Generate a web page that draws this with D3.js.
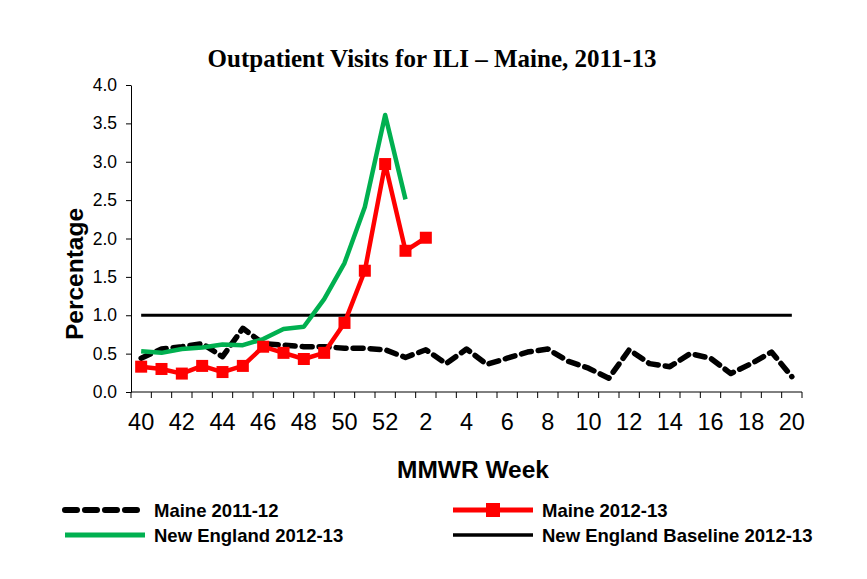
<!DOCTYPE html>
<html>
<head>
<meta charset="utf-8">
<script src="https://cdn.jsdelivr.net/npm/d3@7"></script>
<style>
  body { margin: 0; background: #fff; }
  svg text { font-family: Arial, "Liberation Sans", sans-serif; }
</style>
</head>
<body>
<div id="chart"></div>
<script>
// MMWR weeks on the x axis
let weeks = [40, 41, 42, 43, 44, 45, 46, 47, 48, 49, 50, 51, 52,
    1, 2, 3, 4, 5, 6, 7, 8, 9, 10, 11, 12, 13, 14, 15, 16, 17, 18, 19, 20];
let yTicks = [0, 0.5, 1.0, 1.5, 2.0, 2.5, 3.0, 3.5, 4.0];

// series values (percent of visits for ILI)
let maine1112 = [0.44, 0.56, 0.59, 0.63, 0.46, 0.83, 0.63, 0.61, 0.59, 0.59, 0.57,
    0.57, 0.55, 0.45, 0.55, 0.37, 0.56, 0.36, 0.44, 0.52, 0.56, 0.40, 0.31, 0.18,
    0.55, 0.37, 0.33, 0.50, 0.44, 0.24, 0.37, 0.52, 0.20];
let maine1213 = [0.33, 0.30, 0.24, 0.34, 0.26, 0.34, 0.59, 0.51, 0.43, 0.51, 0.90,
    1.58, 2.97, 1.84, 2.01];
let newEngland1213 = [0.53, 0.51, 0.56, 0.58, 0.62, 0.61, 0.69, 0.82, 0.85, 1.21,
    1.68, 2.41, 3.61, 2.51];
let baseline1213 = weeks.map(() => 1.0);

let width = 867, height = 579;
let margin = {left: 131, right: 65, top: 85, bottom: 187};

let svg = d3.select("#chart").append("svg")
    .attr("width", width)
    .attr("height", height);

let x = d3.scaleBand()
    .domain(d3.range(weeks.length))
    .range([margin.left, width - margin.right]);
let y = d3.scaleLinear()
    .domain([0, 4])
    .range([height - margin.bottom, margin.top]);

let cx = i => x(i) + x.bandwidth() / 2;

// title
svg.append("text")
    .attr("x", 432).attr("y", 67)
    .attr("text-anchor", "middle")
    .style("font-family", "'Liberation Serif', 'Times New Roman', serif")
    .style("font-weight", "bold")
    .style("font-size", "25px")
    .text("Outpatient Visits for ILI \u2013 Maine, 2011-13");

// y axis
let yAxis = svg.append("g")
    .attr("transform", `translate(${margin.left},0)`)
    .call(d3.axisLeft(y).tickValues(yTicks).tickFormat(d3.format(".1f")).tickSize(5).tickSizeOuter(0));
yAxis.selectAll("text").style("font-size", "17.5px").attr("fill", "#000").attr("x", -14);
yAxis.selectAll("line, path").attr("stroke", "#000");

// x axis: ticks on the category boundaries, labels every other week
let xg = svg.append("g")
    .attr("transform", `translate(0,${height - margin.bottom})`);
xg.append("line")
    .attr("x1", margin.left).attr("x2", width - margin.right)
    .attr("stroke", "#000");
xg.selectAll("line.tick")
    .data(d3.range(weeks.length + 1))
    .join("line")
    .attr("class", "tick")
    .attr("x1", i => margin.left + i * x.step())
    .attr("x2", i => margin.left + i * x.step())
    .attr("y2", 6)
    .attr("stroke", "#000");
xg.selectAll("text")
    .data(weeks.map((w, i) => ({w, i})).filter(d => d.i % 2 == 0))
    .join("text")
    .attr("x", d => cx(d.i))
    .attr("y", 38)
    .attr("text-anchor", "middle")
    .style("font-size", "23.5px")
    .text(d => d.w);

// axis titles
svg.append("text")
    .attr("x", 473).attr("y", 478)
    .attr("text-anchor", "middle")
    .style("font-weight", "bold").style("font-size", "24.5px")
    .text("MMWR Week");
svg.append("text")
    .attr("transform", "translate(83,274) rotate(-90)")
    .attr("text-anchor", "middle")
    .style("font-weight", "bold").style("font-size", "24.5px")
    .text("Percentage");

let line = d3.line().x((d, i) => cx(i)).y(d => y(d));

let series = [
    {name: "New England Baseline 2012-13", data: baseline1213, color: "#000", w: 3},
    {name: "Maine 2011-12", data: maine1112, color: "#000", w: 5.5, dash: "10,7"},
    {name: "New England 2012-13", data: newEngland1213, color: "#00b050", w: 4.5},
    {name: "Maine 2012-13", data: maine1213, color: "#ff0000", w: 4.5, marker: true}
];

series.forEach(s => {
    svg.append("path")
        .datum(s.data)
        .attr("d", line)
        .attr("fill", "none")
        .attr("stroke", s.color)
        .attr("stroke-width", s.w)
        .attr("stroke-linecap", s.dash ? "round" : "butt")
        .attr("stroke-linejoin", "round")
        .attr("stroke-dasharray", s.dash || null);
    if (s.marker) {
        svg.selectAll(null)
            .data(s.data)
            .join("rect")
            .attr("x", (d, i) => cx(i) - 6)
            .attr("y", d => y(d) - 6)
            .attr("width", 12).attr("height", 12)
            .attr("fill", s.color);
    }
});

// legend
let legend = [
    {s: series[1], x: 63, y: 510},
    {s: series[3], x: 451, y: 510},
    {s: series[2], x: 63, y: 535},
    {s: series[0], x: 451, y: 535}
];
let lg = svg.append("g");
legend.forEach(l => {
    lg.append("line")
        .attr("x1", l.x + 2).attr("x2", l.x + 82)
        .attr("y1", l.y).attr("y2", l.y)
        .attr("stroke", l.s.color)
        .attr("stroke-width", l.s.w + 0.5)
        .attr("stroke-linecap", l.s.dash ? "round" : "butt")
        .attr("stroke-dasharray", l.s.dash ? "12,8" : null);
    if (l.s.marker) {
        lg.append("rect")
            .attr("x", l.x + 35).attr("y", l.y - 7)
            .attr("width", 14).attr("height", 14)
            .attr("fill", l.s.color);
    }
    lg.append("text")
        .attr("x", l.x + 91).attr("y", l.y + 7)
        .style("font-weight", "bold").style("font-size", "18.5px")
        .text(l.s.name);
});
</script>
</body>
</html>
